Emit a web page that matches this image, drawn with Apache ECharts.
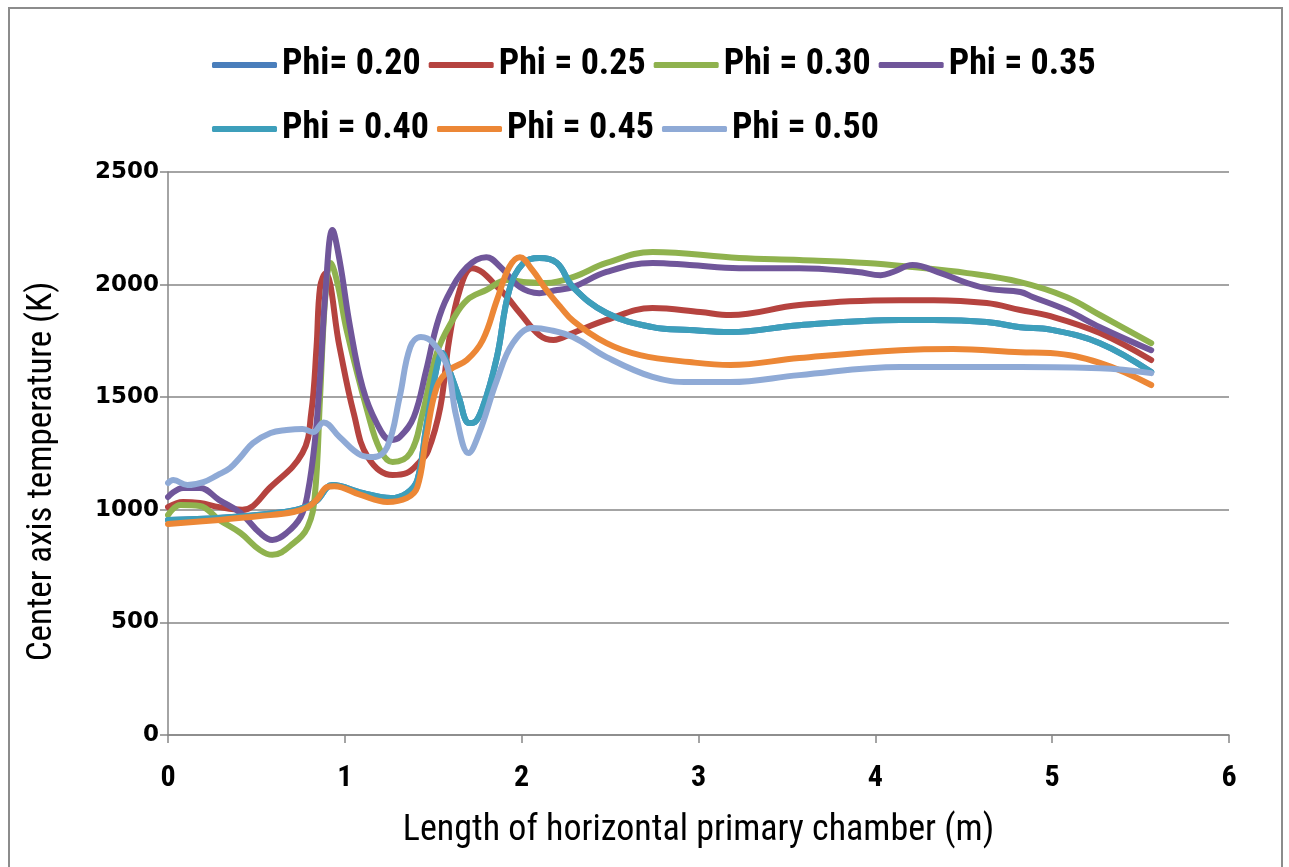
<!DOCTYPE html>
<html>
<head>
<meta charset="utf-8">
<script src="https://cdn.jsdelivr.net/npm/echarts@6/dist/echarts.min.js"></script>
<style>
  html, body { margin: 0; padding: 0; background: #ffffff; }
  #chart { width: 1289px; height: 867px; }
</style>
</head>
<body>
<div id="chart"></div>
<script>
// Centre-axis temperature (K) along the horizontal primary chamber (m)
const seriesNames = ['Phi= 0.20', 'Phi = 0.25', 'Phi = 0.30', 'Phi = 0.35', 'Phi = 0.40', 'Phi = 0.45', 'Phi = 0.50'];
const seriesColors = ['#4a7ebb', '#b5433f', '#8fb24e', '#70569a', '#3d9fbb', '#ec8736', '#8faad6'];

const xTicks = [0, 1, 2, 3, 4, 5, 6];
const yTicks = [0, 500, 1000, 1500, 2000, 2500];

const phi20X = [0, 0.30, 0.60, 0.75, 0.84, 0.93, 1.10, 1.26, 1.35, 1.41, 1.46, 1.52, 1.55, 1.59, 1.65, 1.69, 1.72, 1.78, 1.86, 1.93, 2.01, 2.10, 2.20, 2.29, 2.48, 2.74, 2.95, 3.18, 3.57, 4.14, 4.33, 4.63, 4.82, 4.99, 5.27, 5.56];
const phi20Y = [955, 965, 985, 1005, 1040, 1110, 1075, 1052, 1074, 1132, 1367, 1634, 1696, 1620, 1487, 1390, 1385, 1456, 1678, 1976, 2096, 2118, 2096, 1989, 1874, 1811, 1798, 1789, 1820, 1843, 1843, 1834, 1811, 1800, 1740, 1612];

const phi25X = [0, 0.085, 0.18, 0.29, 0.42, 0.58, 0.76, 0.81, 0.84, 0.86, 0.89, 0.97, 1.05, 1.13, 1.27, 1.35, 1.42, 1.47, 1.54, 1.59, 1.65, 1.72, 1.88, 1.99, 2.10, 2.18, 2.29, 2.48, 2.74, 3.01, 3.18, 3.57, 4.14, 4.33, 4.63, 4.82, 4.99, 5.27, 5.56];
const phi25Y = [1012, 1035, 1030, 1012, 1000, 1101, 1252, 1430, 1723, 1989, 2050, 1723, 1430, 1234, 1154, 1163, 1210, 1260, 1456, 1754, 1976, 2073, 1976, 1874, 1776, 1754, 1785, 1843, 1896, 1878, 1865, 1909, 1931, 1931, 1918, 1887, 1860, 1785, 1665];

const phi30X = [0, 0.07, 0.18, 0.29, 0.41, 0.52, 0.59, 0.71, 0.79, 0.83, 0.86, 0.89, 0.92, 0.96, 1.01, 1.13, 1.20, 1.27, 1.37, 1.44, 1.52, 1.61, 1.69, 1.80, 1.92, 2.03, 2.14, 2.29, 2.48, 2.74, 3.23, 3.57, 3.95, 4.21, 4.52, 4.82, 5.08, 5.27, 5.56];
const phi30Y = [977, 1021, 1017, 955, 897, 821, 800, 852, 924, 1060, 1500, 1950, 2096, 2000, 1798, 1430, 1265, 1212, 1252, 1430, 1696, 1843, 1931, 1976, 2020, 2011, 2007, 2033, 2096, 2145, 2118, 2109, 2096, 2078, 2051, 2011, 1945, 1865, 1740];

const phi35X = [0, 0.085, 0.18, 0.29, 0.41, 0.52, 0.59, 0.67, 0.75, 0.79, 0.83, 0.86, 0.89, 0.93, 0.97, 1.03, 1.10, 1.18, 1.26, 1.31, 1.39, 1.46, 1.52, 1.58, 1.69, 1.80, 1.88, 1.99, 2.10, 2.20, 2.29, 2.48, 2.74, 2.95, 3.23, 3.57, 3.90, 4.03, 4.10, 4.21, 4.37, 4.52, 4.65, 4.82, 4.89, 5.08, 5.27, 5.56];
const phi35Y = [1057, 1097, 1097, 1043, 986, 897, 866, 897, 968, 1074, 1300, 1590, 1962, 2242, 2109, 1811, 1545, 1385, 1310, 1323, 1412, 1620, 1820, 1945, 2078, 2122, 2078, 1989, 1962, 1976, 1989, 2056, 2096, 2087, 2073, 2073, 2056, 2042, 2056, 2087, 2051, 2007, 1980, 1967, 1945, 1887, 1811, 1709];

const phi40X = [0, 0.30, 0.60, 0.75, 0.84, 0.93, 1.10, 1.26, 1.35, 1.41, 1.46, 1.52, 1.55, 1.59, 1.65, 1.69, 1.72, 1.78, 1.86, 1.93, 2.01, 2.10, 2.20, 2.29, 2.48, 2.74, 2.95, 3.18, 3.57, 4.14, 4.33, 4.63, 4.82, 4.99, 5.27, 5.56];
const phi40Y = [955, 965, 985, 1005, 1040, 1110, 1075, 1052, 1074, 1132, 1367, 1634, 1696, 1620, 1487, 1390, 1385, 1456, 1678, 1976, 2096, 2118, 2096, 1989, 1874, 1811, 1798, 1789, 1820, 1843, 1843, 1834, 1811, 1800, 1740, 1612];

const phi45X = [0, 0.29, 0.52, 0.71, 0.79, 0.84, 0.90, 0.94, 1.09, 1.24, 1.35, 1.41, 1.46, 1.52, 1.59, 1.69, 1.78, 1.86, 1.93, 1.99, 2.06, 2.14, 2.22, 2.29, 2.48, 2.67, 2.95, 3.18, 3.57, 4.14, 4.44, 4.82, 4.99, 5.27, 5.56];
const phi45Y = [937, 955, 972, 990, 1012, 1043, 1101, 1105, 1066, 1035, 1052, 1101, 1320, 1545, 1620, 1665, 1754, 1931, 2078, 2122, 2065, 1976, 1900, 1840, 1740, 1687, 1656, 1643, 1674, 1709, 1714, 1700, 1696, 1652, 1554];

const phi50X = [0, 0.03, 0.11, 0.20, 0.28, 0.35, 0.41, 0.48, 0.58, 0.67, 0.76, 0.82, 0.88, 0.97, 1.09, 1.16, 1.24, 1.31, 1.37, 1.43, 1.50, 1.58, 1.63, 1.70, 1.76, 1.86, 1.95, 2.06, 2.16, 2.29, 2.48, 2.74, 2.95, 3.18, 3.57, 4.14, 4.52, 4.82, 5.27, 5.56];
const phi50Y = [1119, 1132, 1110, 1123, 1154, 1185, 1234, 1296, 1341, 1354, 1359, 1345, 1388, 1323, 1243, 1234, 1279, 1501, 1723, 1767, 1740, 1634, 1415, 1252, 1341, 1576, 1740, 1807, 1798, 1767, 1678, 1590, 1567, 1567, 1598, 1634, 1634, 1634, 1629, 1607];

const xValues = [phi20X, phi25X, phi30X, phi35X, phi40X, phi45X, phi50X];
const yValues = [phi20Y, phi25Y, phi30Y, phi35Y, phi40Y, phi45Y, phi50Y];

const narrowFont = "'Liberation Sans Narrow', 'Roboto Condensed', Roboto, sans-serif";
const axisGrey = '#868686';

const chart = echarts.init(document.getElementById('chart'), null, { renderer: 'canvas' });

const series = seriesNames.map((name, k) => ({
  name: name,
  type: 'line',
  symbol: 'none',
  smooth: 0.4,
  color: seriesColors[k],
  lineStyle: { width: 6, color: seriesColors[k], cap: 'round', join: 'round' },
  data: xValues[k].map((x, i) => [x, yValues[k][i]])
}));

const legendBase = {
  orient: 'horizontal',
  left: 207,
  icon: 'roundRect',
  itemWidth: 65,
  itemHeight: 6,
  itemGap: 8,
  textStyle: {
    fontFamily: narrowFont,
    fontSize: 36,
    fontWeight: 'bold',
    color: '#000000',
    width: 150,
    padding: [0, 0, 0, 0]
  }
};

chart.setOption({
  animation: false,
  backgroundColor: '#ffffff',
  graphic: [{
    type: 'rect',
    shape: { x: 9, y: 8, width: 1273, height: 880 },
    style: { fill: 'none', stroke: '#8c8c8c', lineWidth: 2 },
    silent: true
  }],
  legend: [
    Object.assign({}, legendBase, { top: 42, data: seriesNames.slice(0, 4) }),
    Object.assign({}, legendBase, { top: 106, data: seriesNames.slice(4) })
  ],
  grid: { left: 168, right: 60, top: 172, bottom: 132, containLabel: false },
  xAxis: {
    type: 'value',
    min: xTicks[0],
    max: xTicks[xTicks.length - 1],
    interval: 1,
    name: 'Length of horizontal primary chamber (m)',
    nameLocation: 'middle',
    nameGap: 78,
    nameTextStyle: { fontFamily: narrowFont, fontSize: 36, color: '#000000' },
    axisLine: { show: true, onZero: false, lineStyle: { color: axisGrey, width: 1.5 } },
    axisTick: { show: true, length: 8, lineStyle: { color: axisGrey, width: 1.5 } },
    splitLine: { show: false },
    axisLabel: {
      margin: 28,
      fontFamily: narrowFont,
      fontSize: 30,
      fontWeight: 'bold',
      color: '#000000',
      formatter: v => xTicks.includes(v) ? String(v) : ''
    }
  },
  yAxis: {
    type: 'value',
    min: yTicks[0],
    max: yTicks[yTicks.length - 1],
    interval: 500,
    name: 'Center axis temperature (K)',
    nameLocation: 'middle',
    nameRotate: 90,
    nameGap: 108,
    nameTextStyle: { fontFamily: narrowFont, fontSize: 35, color: '#000000', padding: [0, 36, 0, 0] },
    axisLine: { show: true, lineStyle: { color: axisGrey, width: 1.5 } },
    axisTick: { show: true, length: 8, lineStyle: { color: axisGrey, width: 1.5 } },
    splitLine: { show: true, lineStyle: { color: axisGrey, width: 1.5 } },
    axisLabel: {
      margin: 9,
      fontFamily: "'DejaVu Sans', sans-serif",
      fontSize: 23,
      fontWeight: 'bold',
      color: '#000000',
      formatter: v => yTicks.includes(v) ? String(v) : ''
    }
  },
  series: series
});
</script>
</body>
</html>
